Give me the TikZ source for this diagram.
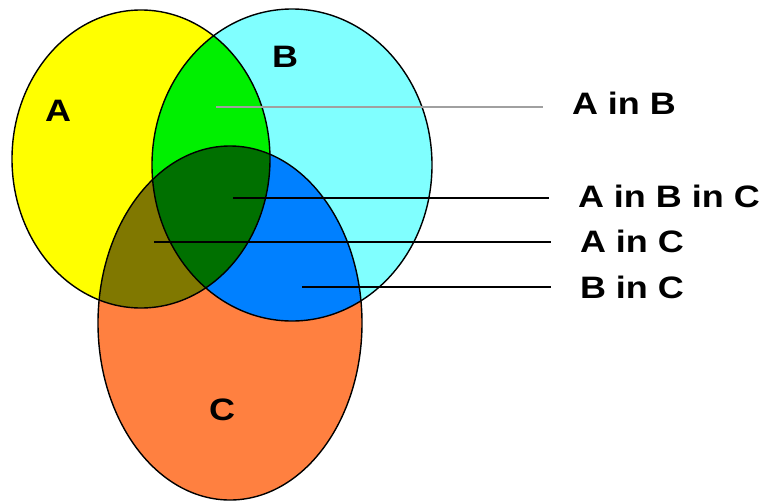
\documentclass[tikz,border=0pt]{standalone}
\usepackage{fontspec}
\setmainfont{Liberation Sans}
\usepackage{graphicx}
\usepackage{tikz}
\definecolor{yellowA}{HTML}{FFFF00}
\definecolor{cyanB}{HTML}{80FFFF}
\definecolor{orangeC}{HTML}{FF8040}
\definecolor{greenAB}{HTML}{00F000}
\definecolor{oliveAC}{HTML}{807800}
\definecolor{blueBC}{HTML}{0080FF}
\definecolor{greenABC}{HTML}{007000}
\definecolor{grayPointer}{HTML}{A0A0A0}

\begin{document}
\begin{tikzpicture}[x=1pt,y=-1pt]

		\tikzset{
            setline/.style={
                draw=black,
                line width=1.4pt
            },
            setname/.style={
                font=\bfseries\fontsize{31}{31}\selectfont,
                inner sep=0pt
            },
            regionlabel/.style={
                anchor=west,
                font=\bfseries\fontsize{31}{31}\selectfont,
                inner sep=0pt,
                outer xsep=29pt
            },
            pointer/.style={
                line width=1.4pt
            }
        }
        
        \newcommand{\ellA}{(141,159) ellipse [x radius=129, y radius=149]}
        \newcommand{\ellB}{(292,165) ellipse [x radius=140, y radius=156]}
        \newcommand{\ellC}{(230,323) ellipse [x radius=132, y radius=177]}
        \newcommand{\wide}[1]{\scalebox{1.16}[1]{#1}}
        
        \useasboundingbox (0,0) rectangle (763,501);
        
        \fill[yellowA] \ellA;
        \fill[cyanB] \ellB;
        \fill[orangeC] \ellC;
        
        \begin{scope}
            \clip \ellA;
            \fill[greenAB] \ellB;
            \fill[oliveAC] \ellC;
        \end{scope}
        \begin{scope}
            \clip \ellB;
            \fill[blueBC] \ellC;
            \clip \ellA;
            \fill[greenABC] \ellC;
        \end{scope}
        
        \draw[setline] \ellA;
        \draw[setline] \ellB;
        \draw[setline] \ellC;
        
        \node[setname] (nameA) at (58,111) {\wide{A}};
        \node[setname] (nameB) at (285,57) {\wide{B}};
        \node[setname] (nameC) at (222,410) {\wide{C}};
        
        \coordinate (inAB) at (216,107);
        \coordinate (inABC) at (233,198);
        \coordinate (inAC) at (154,242);
        \coordinate (inBC) at (302,287);
        
        % the west anchor sits 29pt left of the text
        \node[regionlabel] (labAB) at (543,103) {\wide{A in B}};
        \node[regionlabel] (labABC) at (549,196) {\wide{A in B in C}};
        \node[regionlabel] (labAC) at (551,241) {\wide{A in C}};
        \node[regionlabel] (labBC) at (551,287) {\wide{B in C}};
        
        \draw[pointer, grayPointer] (inAB) -- (inAB -| labAB.west);
        \draw[pointer] (inABC) -- (inABC -| labABC.west);
        \draw[pointer] (inAC) -- (inAC -| labAC.west);
        \draw[pointer] (inBC) -- (inBC -| labBC.west);
        
        \end{tikzpicture}
\end{document}
